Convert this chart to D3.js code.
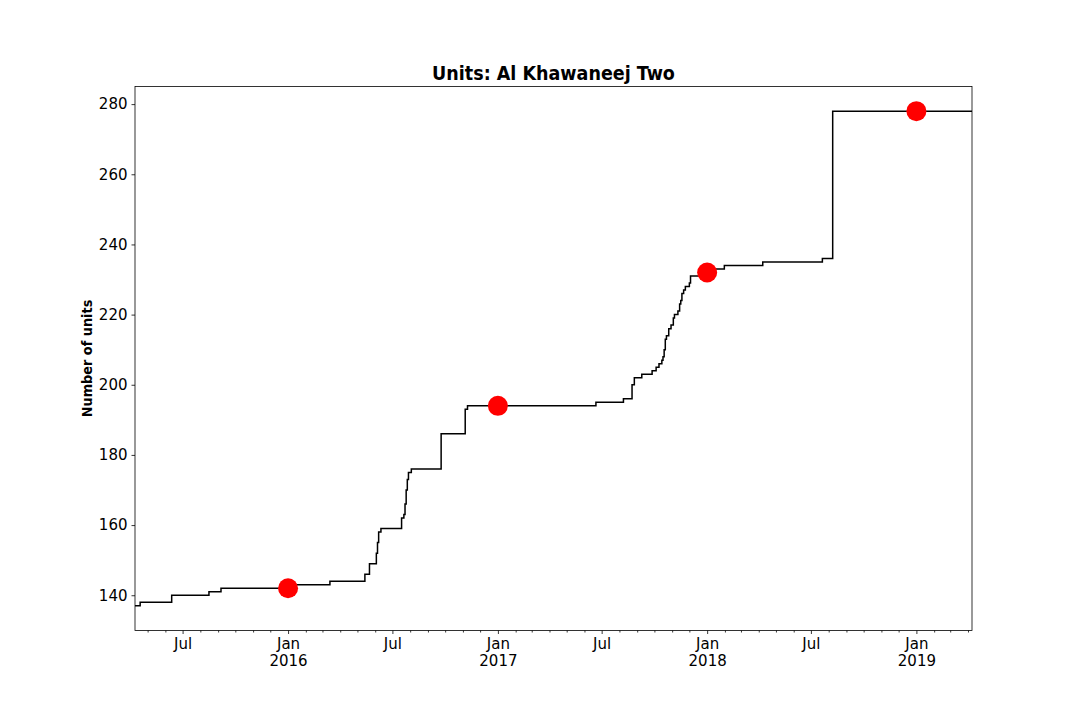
<!DOCTYPE html>
<html>
<head>
<meta charset="utf-8">
<script src="https://cdn.jsdelivr.net/npm/d3@7"></script>
<style>
  body { margin: 0; background: #fff; }
  svg { display: block; }
  .tick text { font-family: "DejaVu Sans", sans-serif; font-size: 15px; fill: #000; }
</style>
</head>
<body>
<svg id="chart" width="1080" height="720"></svg>
<script>
// Step changes: date of change and the number of units from that day on
const stepDates = [
  "2015-04-09", "2015-04-18", "2015-06-12", "2015-08-16", "2015-09-06",
  "2016-01-04", "2016-03-14", "2016-05-14", "2016-05-22", "2016-06-03",
  "2016-06-05", "2016-06-07", "2016-06-11", "2016-07-17", "2016-07-21",
  "2016-07-23", "2016-07-25", "2016-07-27", "2016-07-29", "2016-08-03",
  "2016-09-24", "2016-11-05", "2016-11-09", "2017-06-21", "2017-08-08",
  "2017-08-23", "2017-08-27", "2017-09-09", "2017-09-27", "2017-10-04",
  "2017-10-09", "2017-10-14", "2017-10-16", "2017-10-18", "2017-10-20",
  "2017-10-22", "2017-10-26", "2017-10-30", "2017-11-03", "2017-11-05",
  "2017-11-11", "2017-11-14", "2017-11-16", "2017-11-18", "2017-11-21",
  "2017-11-24", "2017-12-01", "2017-12-03", "2017-12-28", "2018-01-10",
  "2018-01-31", "2018-04-08", "2018-07-21", "2018-08-08", "2019-04-08"
];
const stepValues = [
  137, 138, 140, 141, 142,
  143, 144, 146, 149, 152,
  155, 158, 159, 162, 163,
  166, 170, 173, 175, 176,
  186, 193, 194, 195, 196,
  200, 202, 203, 204, 205,
  206, 207, 208, 210, 213,
  214, 216, 217, 219, 220,
  221, 223, 224, 226, 227,
  228, 229, 231, 232, 233,
  234, 235, 236, 278, 278
];

// Yearly markers (1 January)
const markerDates = ["2016-01-01", "2017-01-01", "2018-01-01", "2019-01-01"];
const markerValues = [142, 194, 232, 278];

const yTicks = [140, 160, 180, 200, 220, 240, 260, 280];

const parse = d3.utcParse("%Y-%m-%d");
const steps = stepDates.map((d, i) => ({ date: parse(d), value: stepValues[i] }));
const markers = markerDates.map((d, i) => ({ date: parse(d), value: markerValues[i] }));

const plotL = 135, plotR = 972, plotT = 86.4, plotB = 630.5;

const svg = d3.select("#chart");

const x = d3.scaleUtc()
  .domain(d3.extent(steps, d => d.date))
  .range([plotL, plotR]);

const vMin = d3.min(stepValues), vMax = d3.max(stepValues);
const pad = (vMax - vMin) * 0.05;
const y = d3.scaleLinear()
  .domain([vMin - pad, vMax + pad])
  .range([plotB, plotT]);

// Minor ticks: every month start that is not Jan / Jul
const minorTicks = d3.utcMonth.range(x.domain()[0], x.domain()[1])
  .filter(d => d.getUTCMonth() % 6 !== 0);
const majorTicks = d3.utcMonth.every(6).range(x.domain()[0], x.domain()[1]);

svg.append("g")
  .attr("transform", `translate(0,${plotB})`)
  .call(d3.axisBottom(x).tickValues(minorTicks).tickSize(2).tickFormat(""))
  .call(g => g.select(".domain").remove())
  .call(g => g.selectAll(".tick line").attr("stroke", "#000").attr("stroke-width", 0.8));

const xMajor = svg.append("g")
  .attr("transform", `translate(0,${plotB})`)
  .call(d3.axisBottom(x).tickValues(majorTicks).tickSize(3.5).tickFormat(""))
  .call(g => g.select(".domain").remove())
  .call(g => g.selectAll(".tick line").attr("stroke", "#000").attr("stroke-width", 0.8));

xMajor.selectAll(".tick").each(function(d) {
  const t = d3.select(this).select("text")
    .attr("y", 0).attr("dy", null).text(null);
  if (d.getUTCMonth() === 0) {
    t.append("tspan").attr("x", 0).attr("y", 18).text("Jan");
    t.append("tspan").attr("x", 0).attr("y", 35).text(d.getUTCFullYear());
  } else {
    t.append("tspan").attr("x", 0).attr("y", 18).text("Jul");
  }
});

svg.append("g")
  .attr("transform", `translate(${plotL},0)`)
  .call(d3.axisLeft(y).tickValues(yTicks).tickSize(3.5).tickPadding(4))
  .call(g => g.select(".domain").remove())
  .call(g => g.selectAll(".tick line").attr("stroke", "#000").attr("stroke-width", 0.8));

// Step line
const line = d3.line()
  .x(d => x(d.date))
  .y(d => y(d.value))
  .curve(d3.curveStepAfter);

svg.append("path")
  .datum(steps)
  .attr("fill", "none")
  .attr("stroke", "#000")
  .attr("stroke-width", 1.5)
  .attr("d", line);

// Red yearly markers
svg.append("g")
  .selectAll("circle")
  .data(markers)
  .join("circle")
  .attr("cx", d => x(d.date))
  .attr("cy", d => y(d.value))
  .attr("r", 10)
  .attr("fill", "#ff0000");

// Frame
svg.append("rect")
  .attr("x", plotL).attr("y", plotT)
  .attr("width", plotR - plotL).attr("height", plotB - plotT)
  .attr("fill", "none")
  .attr("stroke", "#000")
  .attr("stroke-width", 0.8);

// Title and y label
svg.append("text")
  .attr("x", (plotL + plotR) / 2)
  .attr("y", 80)
  .attr("text-anchor", "middle")
  .attr("font-family", "'DejaVu Sans Condensed', 'DejaVu Sans', sans-serif")
  .attr("font-stretch", "condensed")
  .attr("font-weight", "bold")
  .attr("font-size", 19.5)
  .text("Units: Al Khawaneej Two");

svg.append("text")
  .attr("transform", `translate(92,${(plotT + plotB) / 2}) rotate(-90)`)
  .attr("text-anchor", "middle")
  .attr("font-family", "'DejaVu Sans Condensed', 'DejaVu Sans', sans-serif")
  .attr("font-stretch", "condensed")
  .attr("font-weight", "bold")
  .attr("font-size", 14.3)
  .text("Number of units");
</script>
</body>
</html>
